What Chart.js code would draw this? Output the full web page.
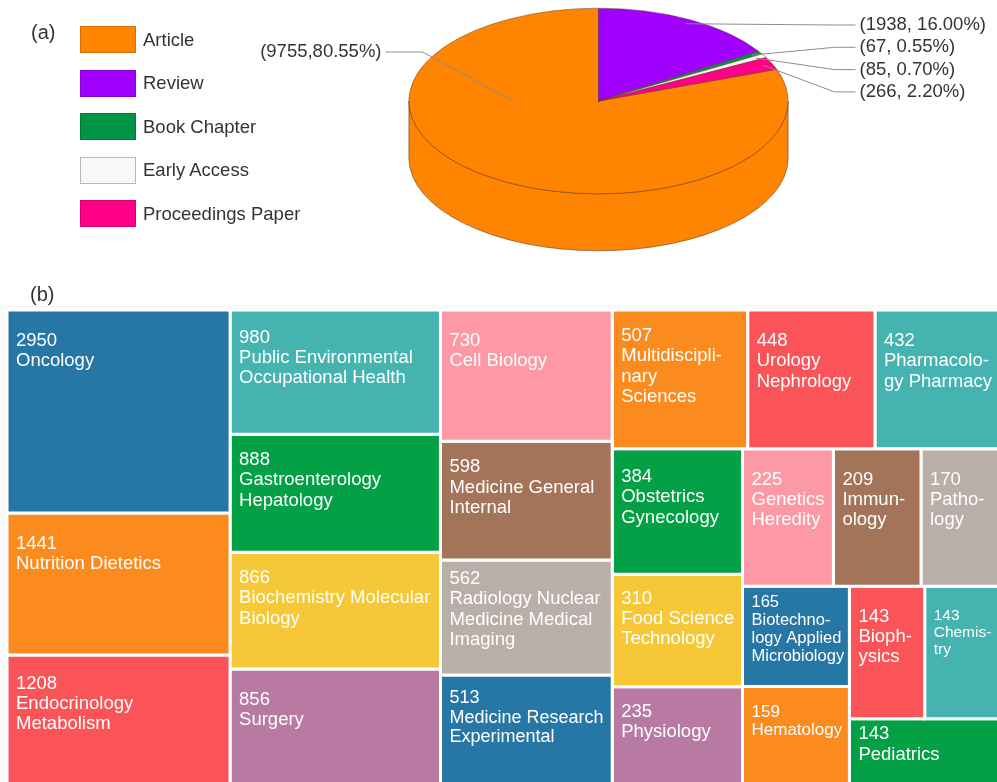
<!DOCTYPE html>
<html>
<head>
<meta charset="utf-8">
<script src="https://cdn.jsdelivr.net/npm/chart.js@4.4.1/dist/chart.umd.min.js"></script>
<style>
  html, body { margin: 0; padding: 0; background: #fff; }
  body { width: 997px; height: 782px; position: relative; overflow: hidden;
         font-family: "Liberation Sans", Arial, sans-serif; color: #333; }
  .panel { position: absolute; font-size: 20px; z-index: 2; }
  #pie { position: absolute; left: 0; top: -99px; }
  #tree { position: absolute; left: 0; top: 305px; background: #f8f9fb; }
  #legend { position: absolute; left: 80px; top: 26px; z-index: 2; }
  .item { height: 27px; margin-bottom: 16.5px; display: flex; align-items: center; font-size: 18.5px; }
  .box { width: 54px; height: 25px; border: 1px solid; margin-right: 7px; }
</style>
</head>
<body>
<canvas id="pie" width="997" height="400"></canvas>
<canvas id="tree" width="1000" height="480"></canvas>
<div class="panel" style="left:31px;top:21px">(a)</div>
<div class="panel" style="left:30px;top:283px">(b)</div>
<div id="legend"></div>
<script>
// (a) document types
var docTypes = ['Article', 'Review', 'Book Chapter', 'Early Access', 'Proceedings Paper'];
var docCounts = [9755, 1938, 67, 85, 266];
var docColors = ['#ff8402', '#a100ff', '#009447', '#f8f8f8', '#ff0087'];
var docEdges = ['#d87000', '#8600d6', '#007a3a', '#b8b8b8', '#d60072'];

// (b) research areas
var subjects = [
  ['Oncology'], ['Nutrition Dietetics'], ['Endocrinology', 'Metabolism'],
  ['Public Environmental', 'Occupational Health'], ['Gastroenterology', 'Hepatology'],
  ['Biochemistry Molecular', 'Biology'], ['Surgery'],
  ['Cell Biology'], ['Medicine General', 'Internal'], ['Radiology Nuclear', 'Medicine Medical', 'Imaging'],
  ['Medicine Research', 'Experimental'],
  ['Multidiscipli-', 'nary', 'Sciences'], ['Urology', 'Nephrology'], ['Pharmacolo-', 'gy Pharmacy'],
  ['Obstetrics', 'Gynecology'], ['Food Science', 'Technology'], ['Physiology'],
  ['Genetics', 'Heredity'], ['Immun-', 'ology'], ['Patho-', 'logy'],
  ['Biotechno-', 'logy Applied', 'Microbiology'], ['Hematology'],
  ['Bioph-', 'ysics'], ['Chemis-', 'try'], ['Pediatrics']
];
var subjectCounts = [2950, 1441, 1208, 980, 888, 866, 856, 730, 598, 562, 513, 507, 448, 432,
  384, 310, 235, 225, 209, 170, 165, 159, 143, 143, 143];
var cellColors = ['#2677a6', '#fb8b1f', '#fa5458', '#45b4b0', '#03a045',
  '#f6c736', '#b87aa3', '#fd99a5', '#a4745a', '#b9aea8'];

// how the treemap is cut: 'h' = side by side, 'v' = stacked
var treeSplit = ['h', ['v', 0, 1, 2], ['v', 3, 4, 5, 6], ['v', 7, 8, 9, 10],
  ['v', ['h', 11, 12, 13],
        ['h', ['v', 14, 15, 16],
              ['v', ['h', 17, 18, 19],
                    ['h', ['v', 20, 21],
                          ['v', ['h', 22, 23], 24]]]]]];

var TILT = 93 / 190;
var DEPTH = 57;
var FONT = '"Liberation Sans", Arial, sans-serif';

// legend
var legend = document.getElementById('legend');
docTypes.forEach(function(t, i) {
  var row = document.createElement('div');
  row.className = 'item';
  var box = document.createElement('div');
  box.className = 'box';
  box.style.background = docColors[i];
  box.style.borderColor = docEdges[i];
  row.appendChild(box);
  row.appendChild(document.createTextNode(t));
  legend.appendChild(row);
});

var docTotal = docCounts.reduce(function(a, b) { return a + b; }, 0);

var pie3d = {
  id: 'pie3d',
  beforeDatasetsDraw: function(chart) {
    var ctx = chart.ctx;
    var arcs = chart.getDatasetMeta(0).data;
    var cx = arcs[0].x, cy = arcs[0].y, r = arcs[0].outerRadius, ry = r * TILT;
    var TWO = Math.PI * 2;
    ctx.save();
    ctx.lineWidth = 0.7;
    ctx.strokeStyle = 'rgba(90,55,20,0.8)';
    arcs.forEach(function(arc, i) {
      var a = arc.startAngle, b = arc.endAngle;
      var n = Math.floor(a / TWO);
      a -= n * TWO; b -= n * TWO;
      [[0, Math.PI], [TWO, TWO + Math.PI]].forEach(function(win) {
        var s = Math.max(a, win[0]), e = Math.min(b, win[1]);
        if (e > s) {
          ctx.beginPath();
          ctx.ellipse(cx, cy, r, ry, 0, s, e);
          ctx.ellipse(cx, cy + DEPTH, r, ry, 0, e, s, true);
          ctx.closePath();
          ctx.fillStyle = docColors[i];
          ctx.fill();
          ctx.stroke();
        }
      });
    });
    ctx.restore();
    ctx.save();
    ctx.translate(cx, cy);
    ctx.scale(1, TILT);
    ctx.translate(-cx, -cy);
  },
  afterDatasetsDraw: function(chart) {
    var ctx = chart.ctx;
    ctx.restore();
    var arcs = chart.getDatasetMeta(0).data;
    var cx = arcs[0].x, cy = arcs[0].y, r = arcs[0].outerRadius, ry = r * TILT;
    var k = 0;
    ctx.save();
    ctx.strokeStyle = '#8c8c8c';
    ctx.lineWidth = 1;
    ctx.fillStyle = '#333';
    ctx.font = '18.5px ' + FONT;
    ctx.textBaseline = 'middle';
    arcs.forEach(function(arc, i) {
      var mid = (arc.startAngle + arc.endAngle) / 2;
      var share = docCounts[i] / docTotal;
      var onRight = Math.cos(mid) >= 0;
      // big slice: point into the face on the label's side
      var ang = share > 0.5 ? (onRight ? 0 : Math.PI) : mid;
      var rf = share > 0.5 ? 0.45 : 0.95;
      var ax = cx + rf * r * Math.cos(ang), ay = cy + rf * ry * Math.sin(ang);
      var pct = (share * 100).toFixed(2) + '%';
      var ly;
      ctx.beginPath();
      ctx.moveTo(ax, ay);
      if (onRight) {
        ly = cy - 76 + k * 22.3; k++;
        ctx.lineTo(cx + 236, ly); ctx.lineTo(cx + 257, ly);
        ctx.stroke();
        ctx.textAlign = 'left';
        ctx.fillText('(' + docCounts[i] + ', ' + pct + ')', cx + 261, ly);
      } else {
        ly = cy - 49;
        ctx.lineTo(cx - 176, ly); ctx.lineTo(cx - 213, ly);
        ctx.stroke();
        ctx.textAlign = 'right';
        ctx.fillText('(' + docCounts[i] + ',' + pct + ')', cx - 217, ly);
      }
    });
    ctx.restore();
  }
};

new Chart(document.getElementById('pie'), {
  type: 'pie',
  data: {
    labels: docTypes,
    datasets: [{
      data: docCounts,
      backgroundColor: docColors,
      borderColor: 'rgba(90,55,20,0.8)',
      borderWidth: 0.8,
      hoverOffset: 0,
      clip: false
    }]
  },
  options: {
    responsive: false,
    animation: false,
    devicePixelRatio: 1,
    events: [],
    rotation: 360 * (docTotal - docCounts[0]) / docTotal,
    layout: { padding: { left: 209, right: 9, top: 10, bottom: 10 } },
    plugins: { legend: { display: false }, tooltip: { enabled: false } }
  },
  plugins: [pie3d]
});

// treemap layout in 0..100 units on both axes
function weight(node) {
  if (typeof node === 'number') return Math.sqrt(subjectCounts[node]);
  return node.slice(1).reduce(function(s, c) { return s + weight(c); }, 0);
}
function cut(node, x, y, w, h, out) {
  if (typeof node === 'number') { out[node] = { x: x, y: y, w: w, h: h }; return; }
  var kids = node.slice(1), total = weight(node), pos = 0;
  kids.forEach(function(c) {
    var f = weight(c) / total;
    if (node[0] === 'h') cut(c, x + pos * w, y, f * w, h, out);
    else cut(c, x, y + pos * h, w, f * h, out);
    pos += f;
  });
}
var cells = [];
cut(treeSplit, 0, 0, 100, 100, cells);

var cellSets = subjectCounts.map(function(v, i) {
  var c = cells[i];
  return {
    label: subjects[i].join(' '),
    data: [{ x: c.x, y: c.y }, { x: c.x + c.w, y: c.y }, { x: c.x + c.w, y: c.y + c.h },
           { x: c.x, y: c.y + c.h }, { x: c.x, y: c.y }],
    showLine: true,
    fill: 'shape',
    backgroundColor: cellColors[i % cellColors.length],
    borderColor: '#fff',
    borderWidth: 3,
    borderJoinStyle: 'miter',
    pointRadius: 0,
    tension: 0,
    clip: false
  };
});

var cellLabels = {
  id: 'cellLabels',
  afterDatasetsDraw: function(chart) {
    var ctx = chart.ctx;
    subjectCounts.forEach(function(v, i) {
      var pts = chart.getDatasetMeta(i).data;
      var left = pts[0].x, top = pts[0].y;
      var w = Math.min(pts[2].x, 997) - left, h = Math.min(pts[2].y, 477) - top;
      var lines = [String(v)].concat(subjects[i]);
      var fs = 18.5;
      function widest() {
        ctx.font = fs + 'px ' + FONT;
        return Math.max.apply(null, lines.map(function(t) { return ctx.measureText(t).width; }));
      }
      while (fs > 11 && (widest() > w - 14 || lines.length * fs * 1.1 > h - 6)) fs -= 0.5;
      var lh = fs * 1.1;
      var gap = Math.max(4, Math.min(22, 0.3 * (h - lines.length * lh)));
      ctx.save();
      ctx.beginPath();
      ctx.rect(left + 1.5, top + 1.5, pts[2].x - left - 3, pts[2].y - top - 3);
      ctx.clip();
      ctx.font = fs + 'px ' + FONT;
      ctx.fillStyle = '#fff';
      ctx.textBaseline = 'alphabetic';
      ctx.textAlign = 'left';
      lines.forEach(function(t, j) {
        ctx.fillText(t, left + 9, top + gap + fs * 0.75 + j * lh);
      });
      ctx.restore();
    });
  }
};

new Chart(document.getElementById('tree'), {
  type: 'scatter',
  data: { datasets: cellSets },
  options: {
    responsive: false,
    animation: false,
    devicePixelRatio: 1,
    events: [],
    layout: { padding: { left: 7, top: 5, right: 0, bottom: 0 } },
    scales: {
      x: { type: 'linear', min: 0, max: 100, display: false },
      y: { type: 'linear', min: 0, max: 100, reverse: true, display: false }
    },
    plugins: { legend: { display: false }, tooltip: { enabled: false } }
  },
  plugins: [cellLabels]
});
</script>
</body>
</html>
